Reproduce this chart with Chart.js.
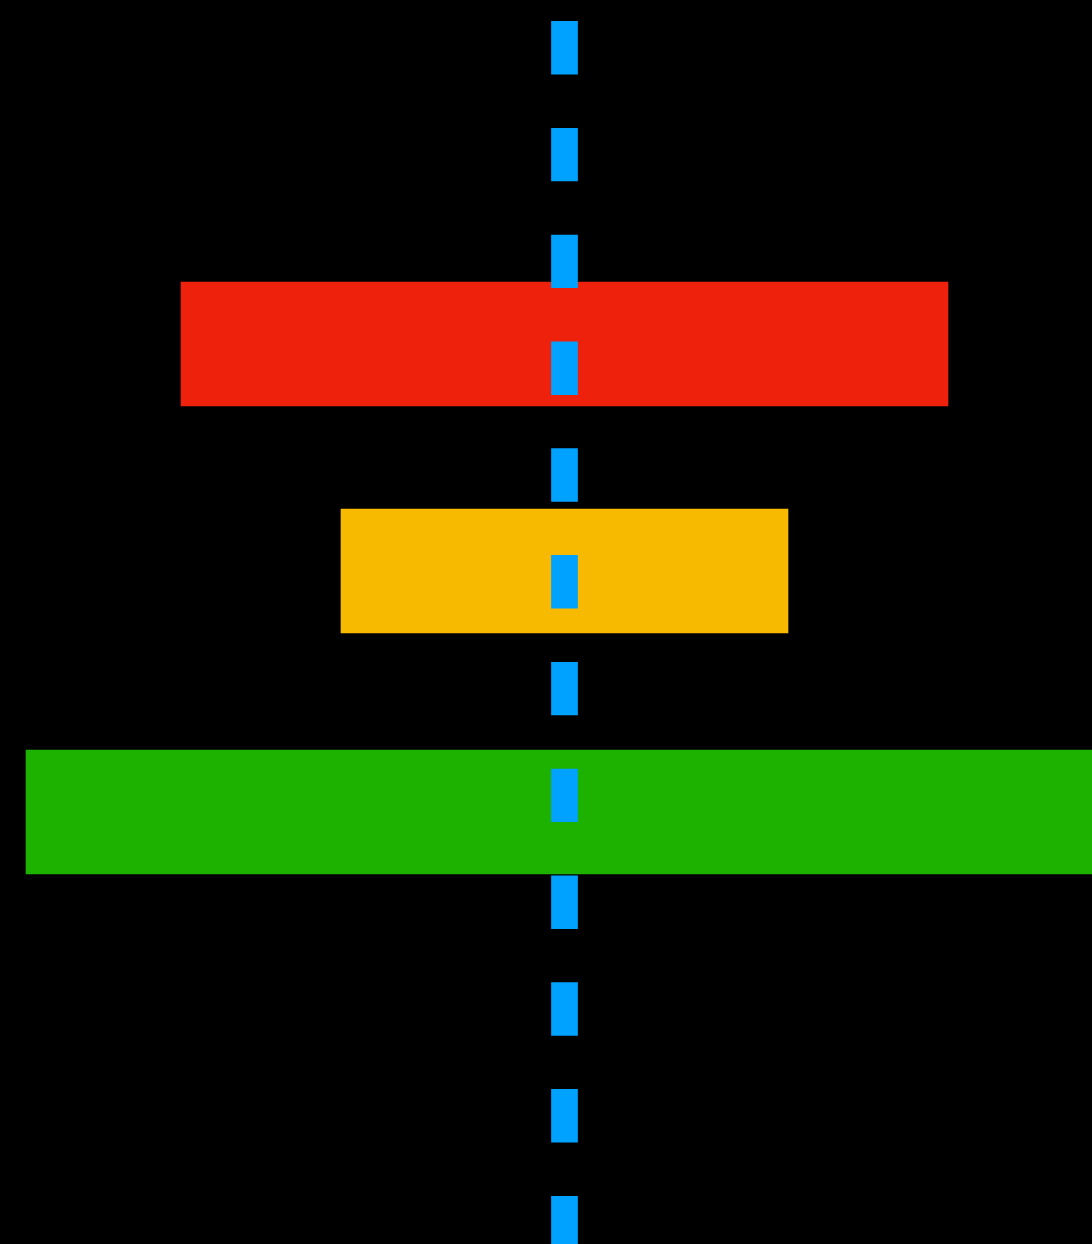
<!DOCTYPE html>
<html>
<head>
<meta charset="utf-8">
<script src="https://cdn.jsdelivr.net/npm/chart.js@4.4.0/dist/chart.umd.min.js"></script>
<style>
  html, body { margin: 0; padding: 0; background: #000; }
  #wrap { width: 1092px; height: 1244px; }
</style>
</head>
<body>
<div id="wrap"><canvas id="chartBars"></canvas></div>
<script>
// bar rows (position on the vertical axis) and their spans on the horizontal axis
const rowPositions = [3.44, 5.71, 8.12]
const barStarts = [-3.835, -2.235, -5.385]
const barEnds = [3.835, 2.235, 5.385]
const barColors = ['#EE220C', '#F8BA00', '#1DB100']

// dashed reference line
const refValue = 0
const refRange = [0, 12.44]

const barData = rowPositions.map((y, i) => ({ y: y, x: [barStarts[i], barEnds[i]] }))

const dataMixed = {
    datasets: [
        {
            type: 'line',
            data: refRange.map(y => ({ x: refValue, y: y })),
            borderColor: '#00A2FF',
            borderWidth: 26.7,
            borderDash: [53.4, 53.4],
            borderDashOffset: 85.7,
            borderCapStyle: 'butt',
            pointRadius: 0,
            order: 0,
        },
        {
            type: 'bar',
            data: barData,
            backgroundColor: barColors,
            borderWidth: 0,
            barThickness: 124,
            order: 1,
        },
    ],
}

const configMixed = {
    type: 'bar',
    data: dataMixed,
    options: {
        indexAxis: 'y',
        responsive: true,
        maintainAspectRatio: false,
        animation: false,
        layout: { padding: 0 },
        plugins: { legend: { display: false }, tooltip: { enabled: false } },
        scales: {
            x: { type: 'linear', min: -5.645, max: 5.275, offset: false, display: false },
            y: { type: 'linear', min: 0, max: 12.44, reverse: true, offset: false, display: false },
        },
    },
}

new Chart(document.getElementById('chartBars'), configMixed)
</script>
</body>
</html>
